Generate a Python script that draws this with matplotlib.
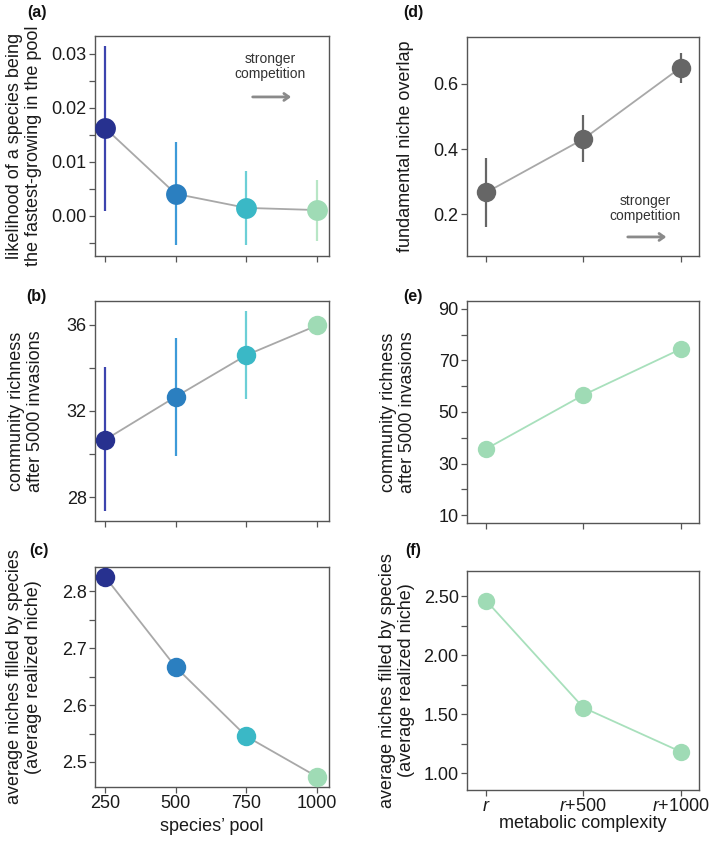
import matplotlib
matplotlib.use("Agg")
import matplotlib.pyplot as plt

plt.rcParams['font.family'] = ['Liberation Sans', 'DejaVu Sans']
plt.rcParams['mathtext.fontset'] = 'custom'
plt.rcParams['mathtext.it'] = 'Liberation Sans:italic'
plt.rcParams['mathtext.rm'] = 'Liberation Sans'

# ---------------- data ----------------
pool = [250, 500, 750, 1000]
pool_labels = ['250', '500', '750', '1000']
pool_colors = ['#27318f', '#2b7fc0', '#3ab8c6', '#9fdbb5']
pool_err_colors = ['#3c44ae', '#3d9ad8', '#6ccfd6', '#b8e6c6']

a_mean = [0.0163, 0.0041, 0.0015, 0.0011]
a_lo = [0.0010, -0.0054, -0.0054, -0.0047]
a_hi = [0.0315, 0.0137, 0.0084, 0.0067]

b_mean = [30.66, 32.66, 34.59, 35.97]
b_lo = [27.35, 29.90, 32.55, 35.97]
b_hi = [34.03, 35.40, 36.62, 35.97]

c_mean = [2.826, 2.667, 2.545, 2.474]

complexity = [0, 1, 2]
complexity_labels = [r'$r$', r'$r$+500', r'$r$+1000']

d_mean = [0.267, 0.431, 0.650]
d_lo = [0.161, 0.359, 0.604]
d_hi = [0.372, 0.504, 0.696]

e_mean = [35.7, 56.6, 74.4]
f_mean = [2.46, 1.554, 1.181]

# ---------------- figure ----------------
W, H = 709, 842
fig = plt.figure(figsize=(W / 100, H / 100), dpi=100)

def box(l, r, t, b):
    return fig.add_axes([l / W, 1 - b / H, (r - l) / W, (b - t) / H])

LINE = '#a8a8a8'
SPINE = '#555555'
TICK_FS = 13
YL_FS = 13
YL_GAP = 19  # pixel distance between the two lines of a y label

def style(ax):
    for s in ax.spines.values():
        s.set_color(SPINE)
        s.set_linewidth(1.0)
    ax.tick_params(axis='both', which='both', direction='out', color=SPINE,
                   labelsize=TICK_FS, labelcolor='#1a1a1a', width=0.9)
    ax.tick_params(axis='both', which='major', length=4, pad=2)
    ax.tick_params(axis='y', which='minor', length=4)

def ylab(x, ax_top, ax_bot, lines):
    n = len(lines)
    for i, line in enumerate(lines):
        xi = x + (i - (n - 1) / 2) * YL_GAP
        fig.text(xi / W, 1 - (ax_top + ax_bot) / 2 / H, line, rotation=90,
                 ha='center', va='center', fontsize=YL_FS, color='#1a1a1a')

def plab(x, y, text):
    fig.text(x / W, 1 - y / H, text, fontsize=11.5, fontweight='bold',
             ha='left', va='center', color='#111111')

def arrow_note(ax, tx, ty, ax0, ax1, ay):
    ax.text(tx, ty, 'stronger\ncompetition', transform=ax.transAxes,
            ha='center', va='center', fontsize=10, color='#333333',
            linespacing=1.1)
    ax.annotate('', xy=(ax1, ay), xytext=(ax0, ay), xycoords='axes fraction',
                arrowprops=dict(arrowstyle='->,head_length=0.35,head_width=0.25',
                                color='#8a8a8a', lw=2.0))

# ---------- (a) ----------
axa = box(95, 329, 36, 256)
axa.plot(pool, a_mean, color=LINE, lw=1.3, zorder=1)
for x, m, lo, hi, c, ec in zip(pool, a_mean, a_lo, a_hi, pool_colors, pool_err_colors):
    axa.plot([x, x], [lo, hi], color=ec, lw=1.6, zorder=2, solid_capstyle='butt')
    axa.plot([x], [m], 'o', color=c, ms=15, mec='none', zorder=3)
axa.set_xlim(214.8, 1042)
axa.set_ylim(-0.0074, 0.0333)
axa.set_yticks([0.00, 0.01, 0.02, 0.03])
axa.set_yticklabels(['0.00', '0.01', '0.02', '0.03'])
axa.set_yticks([-0.005, 0.005, 0.015, 0.025], minor=True)
axa.set_xticks(pool)
axa.set_xticklabels([])
style(axa)
arrow_note(axa, 0.748, 0.861, 0.662, 0.850, 0.723)
ylab(24, 36, 256, ['likelihood of a species being', 'the fastest-growing in the pool'])
plab(27, 13, '(a)')

# ---------- (b) ----------
axb = box(95, 329, 301, 521)
axb.plot(pool, b_mean, color=LINE, lw=1.3, zorder=1)
for x, m, lo, hi, c, ec in zip(pool, b_mean, b_lo, b_hi, pool_colors, pool_err_colors):
    axb.plot([x, x], [lo, hi], color=ec, lw=1.6, zorder=2, solid_capstyle='butt')
    axb.plot([x], [m], 'o', color=c, ms=14, mec='none', zorder=3)
axb.set_xlim(214.8, 1042)
axb.set_ylim(26.9, 37.1)
axb.set_yticks([28, 32, 36])
axb.set_yticks([30, 34], minor=True)
axb.set_xticks(pool)
axb.set_xticklabels([])
style(axb)
ylab(26, 301, 521, ['community richness', 'after 5000 invasions'])
plab(26, 297, '(b)')

# ---------- (c) ----------
axc = box(95, 329, 567, 787)
axc.plot(pool, c_mean, color=LINE, lw=1.3, zorder=1)
for x, m, c in zip(pool, c_mean, pool_colors):
    axc.plot([x], [m], 'o', color=c, ms=14, mec='none', zorder=3)
axc.set_xlim(214.8, 1042)
axc.set_ylim(2.456, 2.843)
axc.set_yticks([2.5, 2.6, 2.7, 2.8])
axc.set_yticks([2.55, 2.65, 2.75], minor=True)
axc.set_xticks(pool)
axc.set_xticklabels(pool_labels)
style(axc)
axc.set_xlabel('species\u2019 pool', fontsize=13, color='#1a1a1a', labelpad=4)
ylab(24, 567, 787, ['average niches filled by species', '(average realized niche)'])
plab(29, 551, '(c)')

# ---------- (d) ----------
axd = box(467, 699, 37, 256)
axd.plot(complexity, d_mean, color=LINE, lw=1.3, zorder=1)
for x, m, lo, hi in zip(complexity, d_mean, d_lo, d_hi):
    axd.plot([x, x], [lo, hi], color='#666666', lw=1.6, zorder=2, solid_capstyle='butt')
    axd.plot([x], [m], 'o', color='#666666', ms=14, mec='none', zorder=3)
axd.set_xlim(-0.198, 2.19)
axd.set_ylim(0.072, 0.744)
axd.set_yticks([0.2, 0.4, 0.6])
axd.set_xticks(complexity)
axd.set_xticklabels([])
style(axd)
arrow_note(axd, 0.767, 0.217, 0.681, 0.871, 0.087)
ylab(406, 37, 256, ['fundamental niche overlap'])
plab(403, 13, '(d)')

# ---------- (e) ----------
GREEN = '#9fdbb5'
axe = box(467, 699, 301, 523)
axe.plot(complexity, e_mean, color='#a8e0bc', lw=1.3, zorder=1)
axe.plot(complexity, e_mean, 'o', color=GREEN, ms=12.5, mec='none', zorder=3)
axe.set_xlim(-0.198, 2.19)
axe.set_ylim(6.9, 93.1)
axe.set_yticks([10, 30, 50, 70, 90])
axe.set_yticks([20, 40, 60, 80], minor=True)
axe.set_xticks(complexity)
axe.set_xticklabels([])
style(axe)
ylab(398, 301, 523, ['community richness', 'after 5000 invasions'])
plab(403, 297, '(e)')

# ---------- (f) ----------
axf = box(467, 699, 571, 790)
axf.plot(complexity, f_mean, color='#a8e0bc', lw=1.3, zorder=1)
axf.plot(complexity, f_mean, 'o', color=GREEN, ms=12.5, mec='none', zorder=3)
axf.set_xlim(-0.198, 2.19)
axf.set_ylim(0.856, 2.712)
axf.set_yticks([1.0, 1.5, 2.0, 2.5])
axf.set_yticklabels(['1.00', '1.50', '2.00', '2.50'])
axf.set_yticks([1.25, 1.75, 2.25], minor=True)
axf.set_xticks(complexity)
axf.set_xticklabels(complexity_labels)
style(axf)
axf.set_xlabel('metabolic complexity', fontsize=13, color='#1a1a1a', labelpad=0)
ylab(397, 571, 790, ['average niches filled by species', '(average realized niche)'])
plab(405, 551, '(f)')

fig.savefig('out.png', dpi=100, facecolor='white')
